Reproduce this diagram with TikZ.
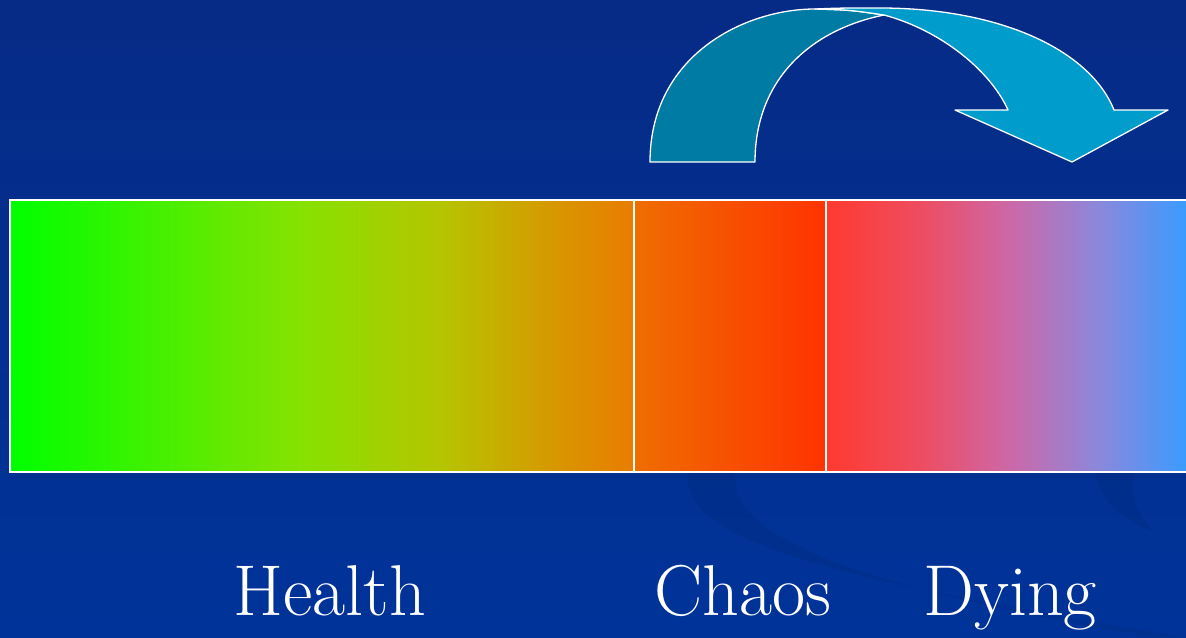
\documentclass[tikz,border=0pt]{standalone}
\usepackage{fontspec}

\definecolor{slidetop}{HTML}{062B86}
\definecolor{slidebottom}{HTML}{003399}
\definecolor{backband}{HTML}{007BA3}
\definecolor{frontband}{HTML}{009CCC}

\definecolor{hA}{HTML}{00FF00}
\definecolor{hB}{HTML}{86E200}
\definecolor{hC}{HTML}{B5C500}
\definecolor{hD}{HTML}{D99500}
\definecolor{hE}{HTML}{E97C00}
\definecolor{cA}{HTML}{EF6E00}
\definecolor{cB}{HTML}{F75000}
\definecolor{cC}{HTML}{FF3300}
\definecolor{dA}{HTML}{FF3A30}
\definecolor{dB}{HTML}{EE4C60}
\definecolor{dC}{HTML}{CC68A8}
\definecolor{dD}{HTML}{8A88DC}
\definecolor{dE}{HTML}{3B9BFF}

\pgfdeclarehorizontalshading{healthfade}{100bp}{color(0bp)=(hA); color(25bp)=(hA);
  color(48.2bp)=(hB); color(59.5bp)=(hC); color(69.1bp)=(hD); color(75bp)=(hE); color(100bp)=(hE)}
\pgfdeclarehorizontalshading{chaosfade}{100bp}{color(0bp)=(cA); color(25bp)=(cA);
  color(50bp)=(cB); color(75bp)=(cC); color(100bp)=(cC)}
\pgfdeclarehorizontalshading{dyingfade}{100bp}{color(0bp)=(dA); color(25bp)=(dA);
  color(38bp)=(dB); color(50.6bp)=(dC); color(63bp)=(dD); color(75bp)=(dE); color(100bp)=(dE)}

\tikzset{
  barline/.style={draw=white,line width=1pt},
  bandline/.style={draw=white,line width=0.65pt,line join=round},
  stagelabel/.style={text=white,anchor=base,inner sep=0pt,font=\fontsize{36}{43}\selectfont}
}

\begin{document}
\begin{tikzpicture}[x=0.5pt,y=-0.5pt]
  \def\bartop{200}
  \def\barbot{472}
  \def\chaosx{634}
  \def\dyingx{826}

  % slide background
  \shade[top color=slidetop,bottom color=slidebottom] (0,0) rectangle (1186,637);
  \useasboundingbox (0,0) rectangle (1186,637);
  \fill[black,opacity=0.06] (688,472) .. controls (680,535) and (800,575) .. (1186,637)
    -- (1150,637) .. controls (820,580) and (730,530) .. (735,472) -- cycle;
  \fill[black,opacity=0.06] (1095,472) .. controls (1100,500) and (1120,520) .. (1155,532)
    .. controls (1135,515) and (1130,495) .. (1135,472) -- cycle;

  % the three stages
  \shade[shading=healthfade] (10,\bartop) rectangle (\chaosx,\barbot);
  \shade[shading=chaosfade] (\chaosx,\bartop) rectangle (\dyingx,\barbot);
  \shade[shading=dyingfade] (\dyingx,\bartop) rectangle (1186,\barbot);
  \draw[barline] (10,\bartop) rectangle (1192,\barbot);
  \draw[barline] (\chaosx,\bartop) -- (\chaosx,\barbot);
  \draw[barline] (\dyingx,\bartop) -- (\dyingx,\barbot);

  % curved arrow
  \filldraw[bandline,fill=backband] (650,162) .. controls (650,55) and (745,9) .. (815,9)
    .. controls (850,10) .. (884,15) .. controls (810,30) and (755,80) .. (755,162) -- cycle;
  \filldraw[bandline,fill=frontband] (815,9) .. controls (840,8) .. (880,8)
    .. controls (1000,8) and (1090,50) .. (1114,110) -- (1168,110) -- (1072,162)
    -- (955,110) -- (1008,110) .. controls (990,70) and (940,30) .. (884,15)
    .. controls (850,10) .. cycle;

  \node[stagelabel] (health) at (330,615) {Health};
  \node[stagelabel] (chaos) at (743,615) {Chaos};
  \node[stagelabel] (dying) at (1010,615) {Dying};
\end{tikzpicture}
\end{document}
